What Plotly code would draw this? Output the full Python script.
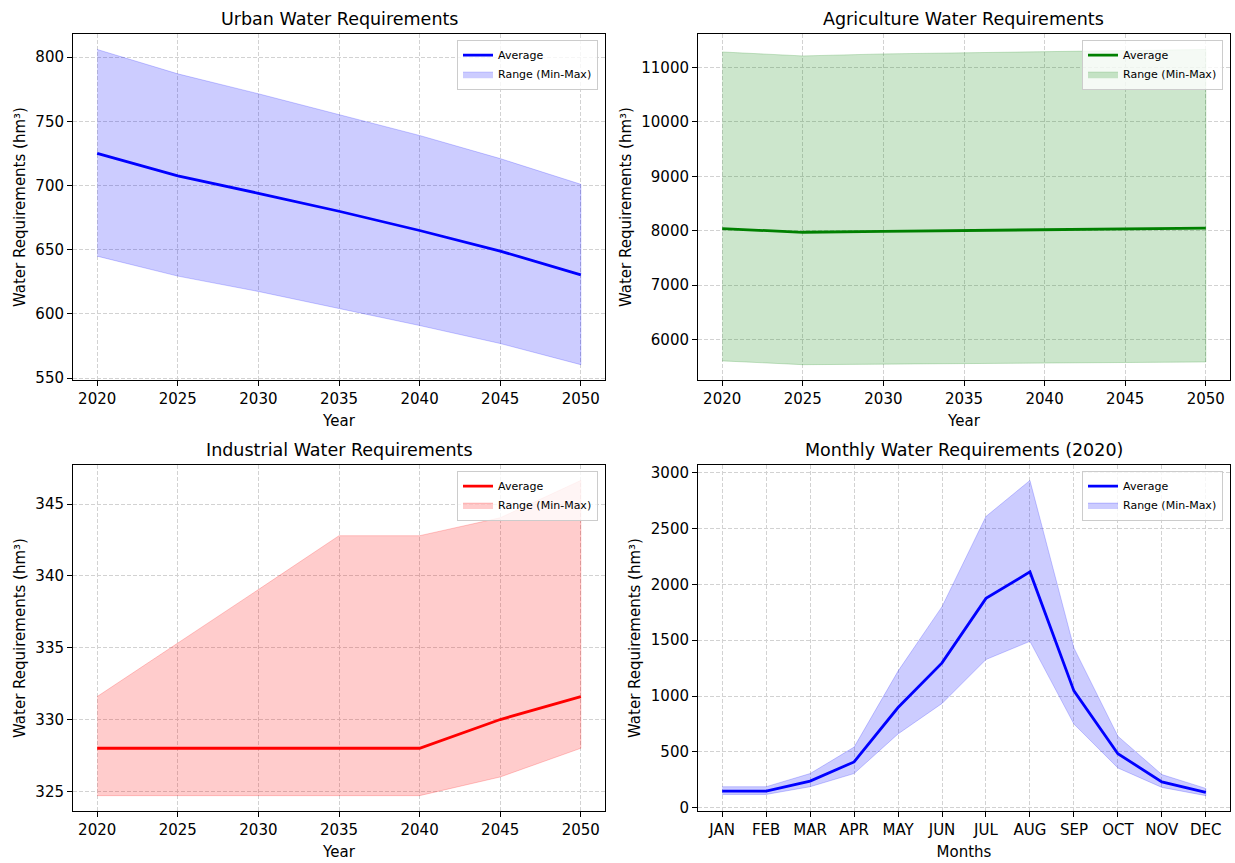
import plotly.graph_objects as go

years = [2020, 2025, 2030, 2035, 2040, 2045, 2050]
months = ["JAN", "FEB", "MAR", "APR", "MAY", "JUN", "JUL", "AUG", "SEP", "OCT", "NOV", "DEC"]

urban_avg = [725, 707.5, 694, 680, 665, 649, 630.5]
urban_max = [806, 787, 771.5, 755.5, 739, 721, 701]
urban_min = [645, 629.5, 617.5, 604.5, 591, 577, 560.5]

agri_avg = [8036, 7970, 7988, 8000, 8016, 8030, 8046]
agri_max = [11286, 11213, 11250, 11272, 11296, 11314, 11332]
agri_min = [5605, 5535, 5545, 5555, 5562, 5572, 5585]

ind_avg = [328, 328, 328, 328, 328, 330, 331.6]
ind_max = [331.6, 335.3, 339.05, 342.8, 342.8, 344.05, 346.65]
ind_min = [324.7, 324.7, 324.7, 324.7, 324.7, 326.0, 328.0]

mon_avg = [148, 148, 237, 409, 897, 1297, 1875, 2112, 1046, 483, 231, 136]
mon_max = [187, 187, 305, 542, 1223, 1801, 2609, 2932, 1431, 640, 296, 172]
mon_min = [118, 118, 187, 305, 660, 933, 1327, 1490, 749, 355, 181, 107]

titles = ["Urban Water Requirements", "Agriculture Water Requirements",
          "Industrial Water Requirements", "Monthly Water Requirements (2020)"]

W, H = 1235, 863
# pixel boxes (left, right, top, bottom)
boxes = [(73, 605, 33, 383), (698, 1230, 33, 383), (73, 605, 468, 818), (698, 1230, 468, 818)]

FONT = "DejaVu Sans"
GRID = "#d2d2d2"

fig = go.Figure()

panels = [
    (years, urban_avg, urban_max, urban_min, "#0000ff", "rgba(0,0,255,0.2)", "Year", 50),
    (years, agri_avg, agri_max, agri_min, "#008000", "rgba(0,128,0,0.2)", "Year", 1000),
    (years, ind_avg, ind_max, ind_min, "#ff0000", "rgba(255,0,0,0.2)", "Year", 5),
    (months, mon_avg, mon_max, mon_min, "#0000ff", "rgba(0,0,255,0.2)", "Months", 500),
]

for i, (xs, avg, mx, mn, col, fillcol, xlab, dt) in enumerate(panels):
    n = i + 1
    xa = "x" if n == 1 else f"x{n}"
    ya = "y" if n == 1 else f"y{n}"
    lg = "legend" if n == 1 else f"legend{n}"
    xs = list(xs)
    fig.add_trace(go.Scatter(
        x=xs + xs[::-1], y=list(mx) + list(mn)[::-1], fill="toself",
        fillcolor=fillcol, line=dict(color=fillcol, width=1), mode="lines",
        name="Range (Min-Max)", xaxis=xa, yaxis=ya, legend=lg, legendrank=2,
        hoverinfo="skip"))
    fig.add_trace(go.Scatter(
        x=xs, y=avg, mode="lines", line=dict(color=col, width=2.8),
        name="Average", xaxis=xa, yaxis=ya, legend=lg, legendrank=1))

    l, r, t, b = boxes[i]
    lo, hi = min(mn), max(mx)
    pad = 0.05 * (hi - lo)
    axcommon = dict(showline=True, mirror=True, linecolor="black", linewidth=1,
                    ticks="outside", ticklen=5, tickcolor="black", tickwidth=1,
                    showgrid=True, gridcolor=GRID, griddash="4px,2px", gridwidth=1,
                    zeroline=False, tickfont=dict(family=FONT, size=15, color="black"))
    if i < 3:
        xr = [2018.5, 2051.5]
        xaxis = dict(domain=[l / W, r / W], anchor=ya, range=xr, tickmode="array",
                     tickvals=years, ticktext=[str(v) for v in years], **axcommon)
    else:
        xaxis = dict(domain=[l / W, r / W], anchor=ya, type="category",
                     range=[-0.55, len(months) - 0.45], tickmode="array",
                     tickvals=months, ticktext=months, **axcommon)
    xaxis["title"] = dict(text=xlab, font=dict(family=FONT, size=15, color="black"), standoff=8)
    yaxis = dict(domain=[1 - b / H, 1 - t / H], anchor=xa, range=[lo - pad, hi + pad],
                 dtick=dt, tick0=0, tickformat="d", **axcommon)
    yaxis["title"] = dict(text="Water Requirements (hm³)",
                          font=dict(family=FONT, size=15, color="black"), standoff=6)
    fig.layout["xaxis" if n == 1 else f"xaxis{n}"] = xaxis
    fig.layout["yaxis" if n == 1 else f"yaxis{n}"] = yaxis

    fig.layout[lg] = dict(x=(r - 7) / W, xanchor="right", y=1 - (t + 6) / H, yanchor="top",
                          xref="paper", yref="paper",
                          bgcolor="rgba(255,255,255,0.8)", bordercolor="#cccccc", borderwidth=1,
                          font=dict(family=FONT, size=11, color="black"), itemwidth=30,
                          tracegroupgap=0)

    fig.add_annotation(text=titles[i], x=(l + r) / 2 / W, y=1 - (t - 15) / H,
                       xref="paper", yref="paper", xanchor="center", yanchor="middle",
                       showarrow=False, font=dict(family=FONT, size=17.5, color="black"))

fig.update_layout(width=W, height=H, margin=dict(l=0, r=0, t=0, b=0),
                  paper_bgcolor="white", plot_bgcolor="white", showlegend=True,
                  font=dict(family=FONT, color="black"))

fig.write_html("out.html")
